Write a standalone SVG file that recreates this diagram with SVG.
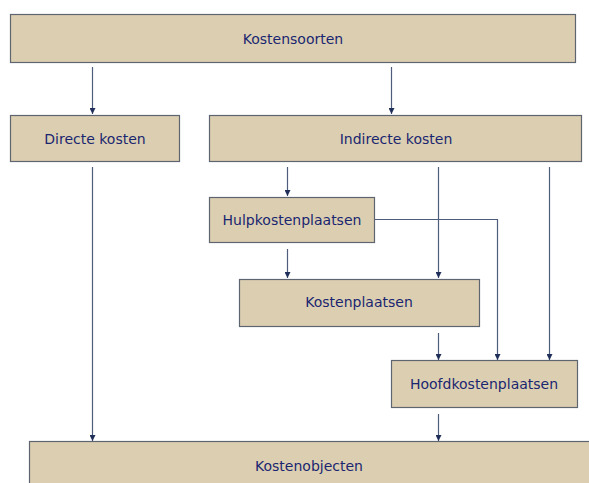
<svg xmlns="http://www.w3.org/2000/svg" width="589" height="483" viewBox="0 0 589 483">
<style>
.box{fill:#dccfb1;stroke:#5e6570;stroke-width:1.2}
.t{font-family:"DejaVu Sans",Verdana,sans-serif;font-size:14px;fill:#1a2670;text-anchor:middle;dominant-baseline:central}
.c{fill:none;stroke:#4f5d7c;stroke-width:1.2;marker-end:url(#ah)}
</style>
<defs>
<marker id="ah" viewBox="0 0 6 6" refX="6" refY="3" markerWidth="6" markerHeight="6" markerUnits="userSpaceOnUse" orient="auto">
<path d="M0,0 L6,3 L0,6 z" fill="#1f2f5a"/>
</marker>
</defs>
<rect width="589" height="483" fill="#ffffff"/>
<g id="connectors">
<path class="c" d="M92.5,67 V114"/>
<path class="c" d="M391.5,67 V114"/>
<path class="c" d="M287.5,167 V196"/>
<path class="c" d="M438.5,167 V278"/>
<path class="c" d="M549.5,167 V360"/>
<path class="c" d="M375,219.5 H497.5 V360"/>
<path class="c" d="M287.5,249 V278"/>
<path class="c" d="M438.5,333 V360"/>
<path class="c" d="M438.5,414 V441"/>
<path class="c" d="M92.5,167 V441"/>
</g>
<g id="kostensoorten">
<rect class="box" x="10.5" y="14.5" width="565" height="48"/>
<text class="t" x="293" y="39">Kostensoorten</text>
</g>
<g id="directe">
<rect class="box" x="10.5" y="115.5" width="169" height="46"/>
<text class="t" x="95" y="139">Directe kosten</text>
</g>
<g id="indirecte">
<rect class="box" x="209.5" y="115.5" width="372" height="46"/>
<text class="t" x="396" y="139">Indirecte kosten</text>
</g>
<g id="hulp">
<rect class="box" x="209.5" y="197.5" width="165" height="45"/>
<text class="t" x="292" y="220">Hulpkostenplaatsen</text>
</g>
<g id="kostenplaatsen">
<rect class="box" x="239.5" y="279.5" width="240" height="47"/>
<text class="t" x="359" y="302">Kostenplaatsen</text>
</g>
<g id="hoofd">
<rect class="box" x="391.5" y="360.5" width="186" height="47"/>
<text class="t" x="484" y="384">Hoofdkostenplaatsen</text>
</g>
<g id="kostenobjecten">
<rect class="box" x="29.5" y="441.5" width="570" height="50"/>
<text class="t" x="309" y="466">Kostenobjecten</text>
</g>
</svg>
